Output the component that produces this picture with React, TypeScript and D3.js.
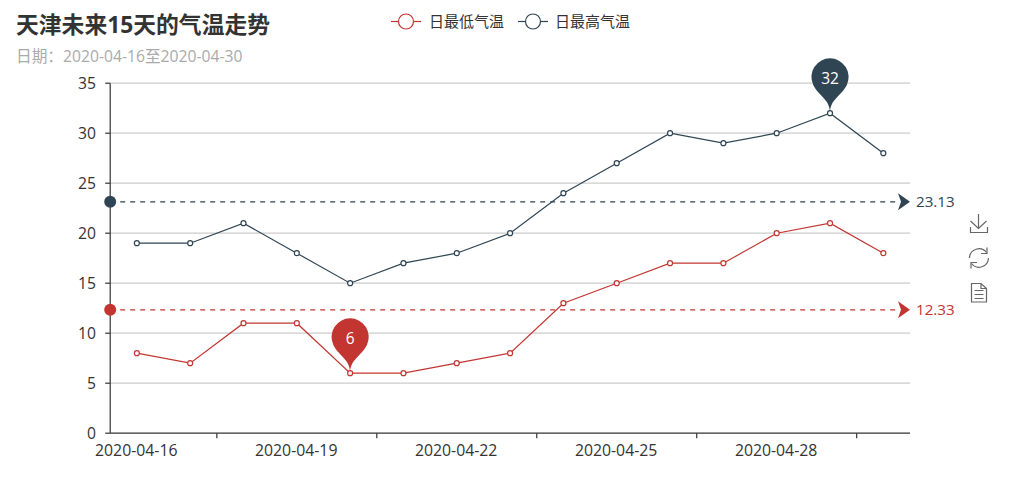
import React from "react";
import * as d3 from "d3";

const categories = ["2020-04-16","2020-04-17","2020-04-18","2020-04-19","2020-04-20","2020-04-21","2020-04-22","2020-04-23","2020-04-24","2020-04-25","2020-04-26","2020-04-27","2020-04-28","2020-04-29","2020-04-30"];
const lowTemps = [8,7,11,11,6,6,7,8,13,15,17,17,20,21,18];
const highTemps = [19,19,21,18,15,17,18,20,24,27,30,29,30,32,28];
const yTicks = [0,5,10,15,20,25,30,35];
const labelledDays = ["2020-04-16","2020-04-19","2020-04-22","2020-04-25","2020-04-28"];
const titleText = "天津未来15天的气温走势";
const subtitleText = "日期：2020-04-16至2020-04-30";
const lowName = "日最低气温";
const highName = "日最高气温";
const RED = "#c23531";
const NAVY = "#2f4554";
const FONT = "'Open Sans','Noto Sans CJK SC',sans-serif";

const W = 1012, H = 504;
const left = 110.2, right = 910, top = 83.2, bottom = 433.2;
const x = d3.scaleBand<string>().domain(categories).range([left, right]);
const y = d3.scaleLinear().domain([0, 35]).range([bottom, top]);
const cx = (c: string) => (x(c) as number) + x.bandwidth() / 2;
const line = d3.line<number>().x((_, i) => cx(categories[i])).y((d) => y(d));

function pinPath(px: number, py: number, size: number) {
  const w = (size / 5) * 3, h = Math.max(w, size), r = w / 2;
  const dy = (r * r) / (h - r), cy = py - h + r + dy;
  const angle = Math.asin(dy / r), dx = Math.cos(angle) * r;
  const tanX = Math.sin(angle), tanY = Math.cos(angle);
  const c1 = r * 0.6, c2 = r * 0.7;
  const p = d3.path();
  p.moveTo(px - dx, cy + dy);
  p.arc(px, cy, r, Math.PI - angle, Math.PI * 2 + angle);
  p.bezierCurveTo(px + dx - tanX * c1, cy + dy + tanY * c1, px, py - c2, px, py);
  p.bezierCurveTo(px, py - c2, px - dx + tanX * c1, cy + dy + tanY * c1, px - dx, cy + dy);
  p.closePath();
  return { d: p.toString(), cy };
}

function Series({ values, color, pick }: { values: number[]; color: string; pick: "min" | "max" }) {
  const avg = d3.mean(values) as number;
  const idx = pick === "min" ? d3.leastIndex(values, (a, b) => a - b) : d3.greatestIndex(values, (d) => d);
  const i = idx as number;
  const px = cx(categories[i]), py = y(values[i]);
  const pin = pinPath(px, py - 0.8, 62);
  const ya = y(avg);
  return (
    <g>
      <line x1={left} x2={899} y1={ya} y2={ya} stroke={color} strokeWidth={1.2} strokeDasharray="5 5" />
      <circle cx={left} cy={ya} r={6} fill={color} />
      <path d={`M${898},${ya - 8.5} L${910},${ya} L${898},${ya + 8.5} L${901},${ya} Z`} fill={color} />
      <text x={916} y={ya + 5.2} fontSize={15.2} fill={color}>{avg.toFixed(2)}</text>
      <path d={line(values) as string} fill="none" stroke={color} strokeWidth={1.2} />
      {values.map((v, k) => (
        <circle key={k} cx={cx(categories[k])} cy={y(v)} r={2.5} fill="#fff" stroke={color} strokeWidth={1.2} />
      ))}
      <path d={pin.d} fill={color} />
      <text x={px} y={pin.cy + 7.5} textAnchor="middle" fontSize={15.5} fill="#fff">{values[i]}</text>
    </g>
  );
}

export default function App() {
  const tickXs = categories
    .map((c, i) => ({ c, i }))
    .filter(({ i }) => i % 3 === 1 && i < 14)
    .map(({ c }) => (x(c) as number) + x.bandwidth());
  return (
    <svg width={W} height={H} style={{ position: "absolute", left: 0, top: 0, background: "#fff" }} fontFamily={FONT}>
      <text x={16} y={33} fontSize={22.8} fontWeight={700} fill="#333">{titleText}</text>
      <text x={16} y={62} fontSize={15.7} fill="#aaa">{subtitleText}</text>

      <g>
        <line x1={391} x2={421} y1={21.5} y2={21.5} stroke={RED} strokeWidth={1.2} />
        <circle cx={406} cy={21.5} r={7.5} fill="#fff" stroke={RED} strokeWidth={1.2} />
        <text x={429} y={27} fontSize={15} fill="#333">{lowName}</text>
        <line x1={518} x2={548} y1={21.5} y2={21.5} stroke={NAVY} strokeWidth={1.2} />
        <circle cx={533} cy={21.5} r={7.5} fill="#fff" stroke={NAVY} strokeWidth={1.2} />
        <text x={555} y={27} fontSize={15} fill="#333">{highName}</text>
      </g>

      {yTicks.filter((t) => t > 0).map((t) => (
        <line key={t} x1={left} x2={right} y1={y(t)} y2={y(t)} stroke="#ccc" strokeWidth={1.2} />
      ))}

      <line x1={left} x2={left} y1={top} y2={bottom} stroke="#333" strokeWidth={1.2} />
      <line x1={left} x2={right} y1={bottom} y2={bottom} stroke="#333" strokeWidth={1.2} />
      {yTicks.map((t) => (
        <g key={t}>
          <line x1={left - 5} x2={left} y1={y(t)} y2={y(t)} stroke="#333" strokeWidth={1.2} />
          <text x={96} y={y(t) + 5.5} textAnchor="end" fontSize={15.7} fill="#333">{t}</text>
        </g>
      ))}
      {tickXs.map((tx) => (
        <line key={tx} x1={tx} x2={tx} y1={bottom} y2={bottom + 5} stroke="#333" strokeWidth={1.2} />
      ))}
      {labelledDays.map((d) => (
        <text key={d} x={cx(d) - 0.6} y={455.5} textAnchor="middle" fontSize={15.8} fill="#333">{d}</text>
      ))}

      <Series values={lowTemps} color={RED} pick="min" />
      <Series values={highTemps} color={NAVY} pick="max" />

      <g fill="none" stroke="#666" strokeWidth={1.2}>
        <path d="M970.5,227 V232.5 H987.5 V227" />
        <path d="M978.5,214 V228.5 M970.5,221 L978.5,228.5 L986.5,221" />
        <path d="M969.5,258 A9.5,9.5 0 0 1 986.5,252.5 M988.5,258 A9.5,9.5 0 0 1 971.5,263.5" />
        <path d="M987,247.5 V253.5 H981 M971,268.5 V262.5 H977" />
        <path d="M971.5,283.5 H981 L986.5,288.5 V302 H971.5 Z M981,283.5 V288.5 H986.5" />
        <path d="M974.5,290.5 H983.5 M974.5,294.5 H983.5 M974.5,298.5 H983.5" />
      </g>
    </svg>
  );
}
